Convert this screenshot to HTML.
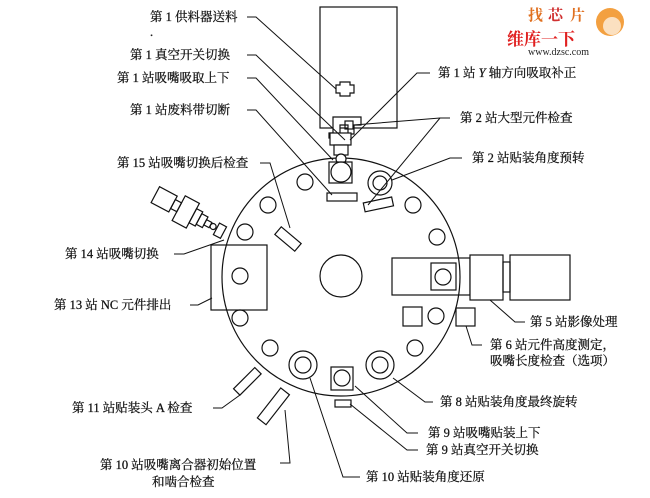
<!DOCTYPE html>
<html><head><meta charset="utf-8"><style>
html,body{margin:0;padding:0;background:#fff;}
svg{display:block;}
text{font-family:"Liberation Serif","Noto Serif CJK SC",serif;font-size:12.5px;fill:#111;stroke:#111;stroke-width:0.25;}
</style></head><body>
<svg width="650" height="498" viewBox="0 0 650 498" xmlns="http://www.w3.org/2000/svg">
<g fill="none" stroke="#111" stroke-width="1.2">
<circle cx="341" cy="277" r="119"/>
<circle cx="341" cy="276" r="21"/>
<rect x="320" y="7" width="77" height="121" fill="#fff"/>
<path d="M336 85h4v-3h10v3h4v8h-4v3h-10v-3h-4z"/>
<path d="M333 117h28v8h-7v9h-6v-9h-8v9h-3v4h-8v-5h4z" fill="#fff"/>
<rect x="345" y="121" width="8" height="8"/>
<rect x="330" y="133" width="21" height="12" fill="#fff"/>
<rect x="334" y="145" width="14" height="10" fill="#fff"/>
<circle cx="341" cy="159" r="5" fill="#fff"/>
<rect x="329" y="162" width="23" height="21" fill="#fff"/>
<circle cx="341" cy="172" r="10"/>
<rect x="327" y="193" width="30" height="8"/>
<circle cx="380" cy="183" r="12"/><circle cx="380" cy="183" r="7"/>
<rect x="364" y="200" width="29" height="9" transform="rotate(-12 378 205)"/>
<circle cx="305" cy="182" r="8"/>
<circle cx="268" cy="205" r="8"/>
<circle cx="245" cy="232" r="8"/>
<circle cx="413" cy="205" r="8"/>
<circle cx="437" cy="237" r="8"/>
<circle cx="240" cy="318" r="8"/>
<circle cx="270" cy="348" r="8"/>
<circle cx="415" cy="348" r="8"/>
<circle cx="436" cy="316" r="8"/>
<circle cx="303" cy="365" r="14"/><circle cx="303" cy="365" r="8"/>
<circle cx="380" cy="365" r="14"/><circle cx="380" cy="365" r="8"/>
<rect x="331" y="367" width="22" height="23"/><circle cx="342" cy="378" r="8"/>
<rect x="335" y="400" width="16" height="7"/>
<rect x="392" y="258" width="78" height="37"/>
<rect x="431" y="263" width="25" height="27"/><circle cx="443" cy="277" r="8"/>
<rect x="470" y="255" width="33" height="45" fill="#fff"/>
<rect x="503" y="262" width="7" height="30"/>
<rect x="510" y="255" width="60" height="45"/>
<rect x="403" y="307" width="19" height="19"/>
<rect x="456" y="308" width="19" height="18"/>
<rect x="211" y="245" width="56" height="65"/>
<circle cx="240" cy="276" r="8"/>
<rect x="283" y="226" width="10" height="26" transform="rotate(-50 288 239)"/>
<rect x="243" y="366" width="9" height="30" transform="rotate(45 247 381)"/>
<rect x="268" y="387" width="11" height="38" transform="rotate(38 273 406)"/>
<g transform="rotate(28 195 218)">
<rect x="149" y="207" width="20" height="18"/>
<rect x="169" y="211" width="7" height="10"/>
<rect x="176" y="203" width="16" height="28"/>
<rect x="192" y="209" width="7" height="16"/>
<rect x="199" y="211" width="7" height="12"/>
<rect x="206" y="214" width="6" height="6"/>
<circle cx="215" cy="217" r="3"/>
<rect x="219" y="211" width="8" height="13"/>
</g>
<g stroke-width="1">
<polyline points="247,17 256,17 336,89"/>
<polyline points="247,55 256,55 345,140"/>
<polyline points="247,78 256,78 333,160"/>
<polyline points="247,110 256,110 332,195"/>
<polyline points="260,163 270,163 290,228"/>
<polyline points="174,254 184,254 224,240"/>
<polyline points="190,305 198,305 212,298"/>
<polyline points="213,408 222,408 240,395"/>
<polyline points="280,463 290,463 285,410"/>
<polyline points="430,73 417,73 350,140"/>
<polyline points="354,125 440,118 450,118"/>
<polyline points="440,118 368,205"/>
<polyline points="462,158 450,158 392,180"/>
<polyline points="525,322 515,322 490,300"/>
<polyline points="482,345 472,345 466,326"/>
<polyline points="433,402 425,402 393,378"/>
<polyline points="418,433 407,433 355,386"/>
<polyline points="418,450 407,450 350,404"/>
<polyline points="360,477 343,477 310,378"/>
</g>
</g>
<text x="150" y="21">第 1 供料器送料</text>
<text x="150" y="36">.</text>
<text x="130" y="59">第 1 真空开关切换</text>
<text x="117" y="82">第 1 站吸嘴吸取上下</text>
<text x="130" y="114">第 1 站废料带切断</text>
<text x="117" y="167">第 15 站吸嘴切换后检查</text>
<text x="65" y="258">第 14 站吸嘴切换</text>
<text x="54" y="309">第 13 站 NC 元件排出</text>
<text x="72" y="412">第 11 站贴装头 A 检查</text>
<text x="100" y="469">第 10 站吸嘴离合器初始位置</text>
<text x="152" y="486">和啮合检查</text>
<text x="438" y="77">第 1 站 <tspan font-style="italic">Y</tspan> 轴方向吸取补正</text>
<text x="460" y="122">第 2 站大型元件检查</text>
<text x="472" y="162">第 2 站贴装角度预转</text>
<text x="530" y="326">第 5 站影像处理</text>
<text x="490" y="349">第 6 站元件高度测定，</text>
<text x="490" y="365">吸嘴长度检查（选项）</text>
<text x="440" y="406">第 8 站贴装角度最终旋转</text>
<text x="428" y="437">第 9 站吸嘴贴装上下</text>
<text x="426" y="454">第 9 站真空开关切换</text>
<text x="366" y="481">第 10 站贴装角度还原</text>
<text x="528" y="20" style="font-size:15px;fill:#e07020;stroke:none;font-weight:bold">找</text>
<text x="548" y="20" style="font-size:15px;fill:#d03030;stroke:none;font-weight:bold">芯</text>
<text x="570" y="20" style="font-size:15px;fill:#e07020;stroke:none;font-weight:bold">片</text>
<circle cx="610" cy="22" r="14" fill="#f3a040"/>
<circle cx="612" cy="26" r="9" fill="#fbe0c0"/>
<text x="507" y="45" style="font-size:17px;fill:#e02020;stroke:none;font-weight:bold">维库一下</text>
<text x="528" y="55" style="font-size:10px;fill:#222;stroke:none">www.dzsc.com</text>
</svg>
</body></html>
